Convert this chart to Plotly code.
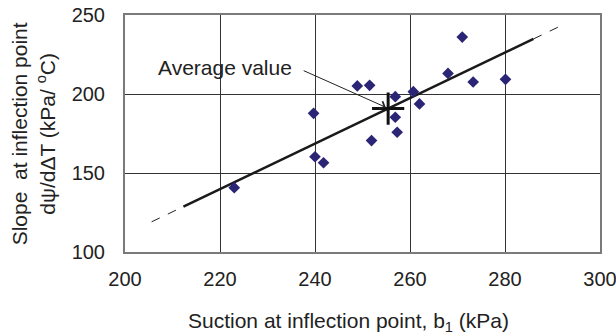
import plotly.graph_objects as go

# Measured points: suction at inflection point vs. slope at inflection point
suction_kpa = [271, 268, 273.3, 280.1, 248.9, 251.5, 256.9, 260.7, 262.0,
               239.7, 256.9, 257.3, 251.9, 240.0, 241.8, 223.0]
slope_kpa_per_c = [236, 213, 207.6, 209.3, 205.1, 205.5, 198.3, 201.5, 193.7,
                   187.8, 185.3, 175.8, 170.5, 160.3, 156.5, 140.7]

# Trend line: y = avg_y + fit_slope * (x - avg_x)
avg_x, avg_y = 255.4, 190.8
fit_slope = 1.44
fit_solid_x = [212.3, 286.0]
fit_dash_low_x = [205.6, 212.3]
fit_dash_high_x = [286.0, 292.5]

x_ticks = [200, 220, 240, 260, 280, 300]
y_ticks = [100, 150, 200, 250]


def fit(xs):
    return [avg_y + fit_slope * (x - avg_x) for x in xs]


FONT = "Liberation Sans, Arial, sans-serif"
INK = "#222"
fig = go.Figure()

fig.add_trace(go.Scatter(x=fit_dash_low_x, y=fit(fit_dash_low_x), mode="lines",
                         line=dict(color=INK, width=1, dash="dash"), hoverinfo="skip"))
fig.add_trace(go.Scatter(x=fit_dash_high_x, y=fit(fit_dash_high_x), mode="lines",
                         line=dict(color=INK, width=1, dash="dash"), hoverinfo="skip"))
fig.add_trace(go.Scatter(x=fit_solid_x, y=fit(fit_solid_x), mode="lines",
                         line=dict(color="#1a1a1a", width=2.5), hoverinfo="skip"))

fig.add_trace(go.Scatter(x=suction_kpa, y=slope_kpa_per_c, mode="markers",
                         marker=dict(symbol="diamond", size=9, color="#2b2575",
                                     line=dict(width=0))))

fig.add_trace(go.Scatter(x=[avg_x], y=[avg_y], mode="markers",
                         marker=dict(symbol="cross-thin", size=23,
                                     line=dict(color="#111", width=3))))

fig.add_annotation(x=avg_x - 0.5, y=avg_y + 0.8, ax=237.3, ay=215.2,
                   axref="x", ayref="y", xref="x", yref="y", text="",
                   showarrow=True, arrowhead=4, arrowsize=1.6, arrowwidth=1,
                   arrowcolor=INK)
fig.add_annotation(x=221, y=216.5, xref="x", yref="y", text="Average value",
                   showarrow=False, font=dict(family=FONT, size=21, color=INK))

# Axis titles
fig.add_annotation(x=0.471, y=-0.295, xref="paper", yref="paper",
                   xanchor="center", yanchor="middle",
                   text="Suction at inflection point, b<sub>1</sub> (kPa)",
                   showarrow=False, font=dict(family=FONT, size=21, color=INK))
fig.add_annotation(x=-0.194, y=0.5, xref="paper", yref="paper",
                   xanchor="center", yanchor="middle", textangle=-90,
                   text="Slope  at inflection point<br>d\u03c8/d\u0394T (kPa/ <sup>o</sup>C)",
                   showarrow=False, font=dict(family=FONT, size=21, color=INK))

fig.update_layout(
    width=616, height=335,
    margin=dict(l=125, r=16, t=15, b=83, autoexpand=False),
    paper_bgcolor="white", plot_bgcolor="white",
    showlegend=False,
    font=dict(family=FONT, size=20, color=INK),
)
fig.update_xaxes(range=[200, 300], tickvals=x_ticks, showgrid=True,
                 gridcolor="#333", gridwidth=1, showline=True, linecolor="#7a7a7a",
                 linewidth=2, mirror=True, ticks="", zeroline=False,
                 automargin=False, ticklabelstandoff=8, ticklabeloverflow="allow",
                 tickfont=dict(size=20))
fig.update_yaxes(range=[100, 250], tickvals=y_ticks, showgrid=True,
                 gridcolor="#333", gridwidth=1, showline=True, linecolor="#7a7a7a",
                 linewidth=2, mirror=True, ticks="", zeroline=False,
                 automargin=False, ticklabelstandoff=14, ticklabeloverflow="allow",
                 tickfont=dict(size=20))

fig.write_html("out.html")
